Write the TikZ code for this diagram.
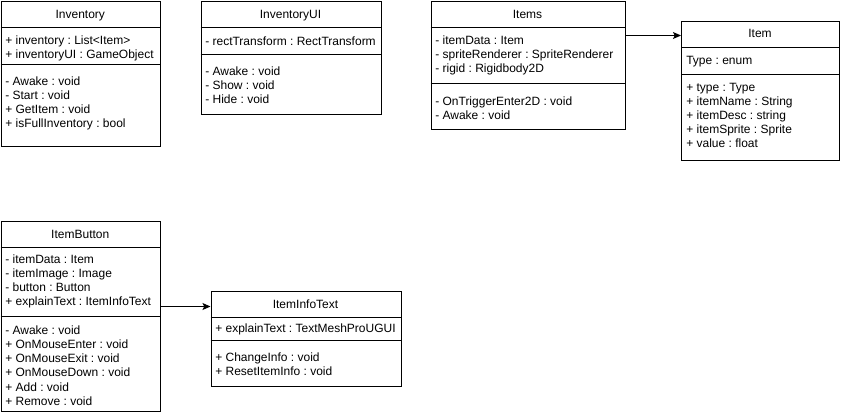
\documentclass[tikz,border=0pt]{standalone}
\usepackage{fontspec}
\setmainfont{Liberation Sans}
\frenchspacing
\usetikzlibrary{arrows.meta}
\tikzset{
  cbox/.style={draw=black, line width=0.75pt, fill=white, inner sep=0pt, anchor=north west},
  sep/.style={draw=black, line width=0.75pt},
  txt/.style={inner sep=0pt, font=\fontsize{9pt}{10.5pt}\selectfont\frenchspacing, text=black},
  arr/.style={draw=black, line width=0.75pt, -{Stealth[length=6pt,width=5.2pt,inset=1.3pt]}},
}
\newcommand\rowlist[5]{% name, x, first centre y, spacing, list
  \foreach \t [count=\i from 0] in {#5} {
    \node[txt, anchor=base west] (#1\i) at (#2, #3+4.3+#4*\i) {\t};
  }}
\begin{document}
\begin{tikzpicture}[x=0.75pt, y=-0.75pt]
\useasboundingbox (0,0) rectangle (841,414);

% Inventory
\node[cbox, minimum width=159.5*0.75pt, minimum height=145.5*0.75pt] (inv) at (0.5,0.5) {};
\draw[sep] (inv.west |- 0,27) -- (inv.east |- 0,27);
\draw[sep] (inv.west |- 0,64) -- (inv.east |- 0,64);
\node[txt, anchor=base] (invt) at (80.25,18.3) {Inventory};
\rowlist{inva}{5}{40}{13.8}{+ inventory : List<Item>, + inventoryUI : GameObject}
\rowlist{invo}{5}{81}{14.2}{- Awake : void, - Start : void, + GetItem : void, + isFullInventory : bool}

% InventoryUI
\node[cbox, minimum width=180*0.75pt, minimum height=113*0.75pt] (ui) at (200.5,0.5) {};
\draw[sep] (ui.west |- 0,27) -- (ui.east |- 0,27);
\draw[sep] (ui.west |- 0,54) -- (ui.east |- 0,54);
\node[txt, anchor=base] (uit) at (290.5,18.3) {InventoryUI};
\rowlist{uia}{205}{41}{14}{- rectTransform : RectTransform}
\rowlist{uio}{205}{71}{14}{- Awake : void, - Show : void, - Hide : void}

% Items
\node[cbox, minimum width=194*0.75pt, minimum height=128*0.75pt] (items) at (430.5,0.5) {};
\draw[sep] (items.west |- 0,27) -- (items.east |- 0,27);
\draw[sep] (items.west |- 0,83) -- (items.east |- 0,83);
\node[txt, anchor=base] (itemst) at (527.5,18.3) {Items};
\rowlist{itemsa}{435}{40}{14}{- itemData : Item, - spriteRenderer : SpriteRenderer, - rigid : Rigidbody2D}
\rowlist{itemso}{435}{101}{14}{- OnTriggerEnter2D : void, - Awake : void}

% Item
\node[cbox, minimum width=158*0.75pt, minimum height=139*0.75pt] (item) at (681,20.5) {};
\draw[sep] (item.west |- 0,47) -- (item.east |- 0,47);
\draw[sep] (item.west |- 0,74) -- (item.east |- 0,74);
\node[txt, anchor=base] (itemt) at (760,37.3) {Item};
\rowlist{itema}{686}{60}{14}{Type : enum}
\rowlist{itemo}{686}{87}{14}{+ type : Type, + itemName : String, + itemDesc : string, + itemSprite : Sprite, + value : float}

% ItemButton
\node[cbox, minimum width=159.5*0.75pt, minimum height=190*0.75pt] (btn) at (0.5,220.5) {};
\draw[sep] (btn.west |- 0,247) -- (btn.east |- 0,247);
\draw[sep] (btn.west |- 0,316) -- (btn.east |- 0,316);
\node[txt, anchor=base] (btnt) at (80.25,238.3) {ItemButton};
\rowlist{btna}{5}{259}{14}{- itemData : Item, - itemImage : Image, - button : Button, + explainText : ItemInfoText}
\rowlist{btno}{5}{330}{14.2}{- Awake : void, + OnMouseEnter : void, + OnMouseExit : void, + OnMouseDown : void, + Add : void, + Remove : void}

% ItemInfoText
\node[cbox, minimum width=190*0.75pt, minimum height=95*0.75pt] (info) at (210.5,290.5) {};
\draw[sep] (info.west |- 0,317) -- (info.east |- 0,317);
\draw[sep] (info.west |- 0,340) -- (info.east |- 0,340);
\node[txt, anchor=base] (infot) at (305.5,308.3) {ItemInfoText};
\rowlist{infoa}{215}{328.5}{14}{+ explainText : TextMeshProUGUI}
\rowlist{infoo}{215}{357}{14}{+ ChangeInfo : void, + ResetItemInfo : void}

% connectors
\coordinate (ya) at (0,35.5);
\coordinate (yb) at (0,306.5);
\draw[arr] (items.east |- ya) -- (item.west |- ya);
\draw[arr] (btn.east |- yb) -- (info.west |- yb);
\end{tikzpicture}
\end{document}
